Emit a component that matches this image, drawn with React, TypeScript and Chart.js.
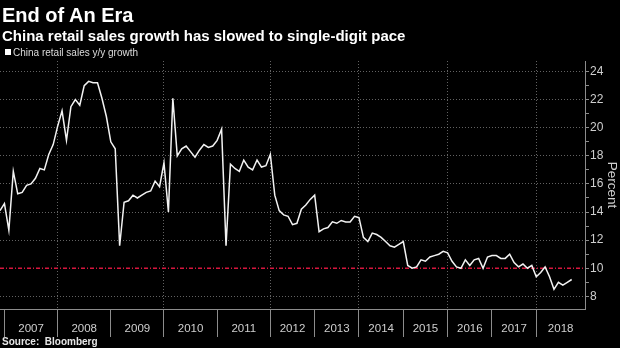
import React, { useEffect, useRef } from 'react';
import { Chart, registerables } from 'chart.js';

Chart.register(...registerables);

// China retail sales y/y growth (%), month-end points, Nov 2006 .. Sep 2018
const values: number[] = [
  14.1, 14.6, 12.7, 16.9, 15.3, 15.4, 15.9, 16.0, 16.4, 17.1, 17.0, 18.1, 18.8,
  20.1, 21.2, 19.1, 21.5, 22.0, 21.6, 23.0, 23.3, 23.2, 23.2, 22.1, 20.8, 19.0,
  18.5, 11.6, 14.7, 14.8, 15.2, 15.0, 15.2, 15.4, 15.5, 16.2, 15.8, 17.5, 14.0,
  22.1, 18.0, 18.5, 18.7, 18.3, 17.9, 18.4, 18.8, 18.6, 18.7, 19.1, 19.9, 11.6,
  17.4, 17.1, 16.9, 17.7, 17.2, 17.0, 17.7, 17.2, 17.3, 18.1, 15.2, 14.1, 13.8,
  13.7, 13.1, 13.2, 14.2, 14.5, 14.9, 15.2, 12.6, 12.8, 12.9, 13.3, 13.2, 13.4,
  13.3, 13.3, 13.7, 13.6, 12.2, 11.9, 12.5, 12.4, 12.2, 11.9, 11.6, 11.5, 11.7,
  11.9, 10.2, 10.0, 10.1, 10.6, 10.5, 10.8, 10.9, 11.0, 11.2, 11.1, 10.5, 10.1,
  10.0, 10.6, 10.2, 10.6, 10.7, 10.0, 10.8, 10.9, 10.9, 10.7, 10.7, 11.0, 10.4,
  10.1, 10.3, 10.0, 10.2, 9.4, 9.7, 10.1, 9.4, 8.5, 9.0, 8.8, 9.0, 9.2,
];

const years: string[] = ['2007', '2008', '2009', '2010', '2011', '2012', '2013', '2014', '2015', '2016', '2017', '2018'];
// point index at which each year begins
const yearStarts: number[] = [1, 13, 25, 37, 49, 61, 71, 81, 91, 101, 111, 121];
const xEnd = 132;

const yMajor: number[] = [8, 10, 12, 14, 16, 18, 20, 22, 24];
const yMinorTicks: number[] = [9, 11, 13, 15, 17, 19, 21, 23];
const yMin = 7.1;
const yMax = 24.75;
const threshold = 10;

const FONT = "'Liberation Sans', Arial, Helvetica, sans-serif";
const gridColor = 'rgba(150,150,150,0.65)';
const axisColor = '#8c8c8c';
const labelColor = '#cfcfcf';
const clear = 'rgba(0,0,0,0)';

export default function App() {
  const ref = useRef<HTMLCanvasElement | null>(null);

  useEffect(() => {
    if (!ref.current) return;
    const mids = years.map((_, k) => (yearStarts[k] + (k + 1 < yearStarts.length ? yearStarts[k + 1] : xEnd)) / 2);
    const labelMap = new Map<number, string>();
    mids.forEach((m, k) => labelMap.set(m, years[k]));
    const xTickVals = [...yearStarts, ...mids].sort((a, b) => a - b);
    const yTickVals = [...yMajor, ...yMinorTicks].sort((a, b) => a - b);

    const xGridColor = xTickVals.map((v) => {
      const k = yearStarts.indexOf(v);
      return k > 0 && k % 2 === 1 ? gridColor : clear;
    });
    const xTickColor = xTickVals.map((v) => (yearStarts.includes(v) ? axisColor : clear));
    const yGridColor = yTickVals.map((v) => (yMajor.includes(v) ? gridColor : clear));

    Chart.defaults.font.family = FONT;

    const chart = new Chart(ref.current, {
      type: 'line',
      data: {
        datasets: [
          {
            label: 'China retail sales y/y growth',
            data: values.map((v, i) => ({ x: i, y: v })),
            borderColor: '#f2f2f2',
            borderWidth: 1.5,
            pointRadius: 0,
            tension: 0,
            order: 0,
          },
          {
            label: 'threshold',
            data: [{ x: 0, y: threshold }, { x: xEnd, y: threshold }],
            borderColor: '#d6163e',
            borderWidth: 1.3,
            borderDash: [4, 2, 1, 2],
            pointRadius: 0,
            order: 1,
          },
        ],
      },
      options: {
        responsive: false,
        animation: false,
        devicePixelRatio: 1,
        events: [],
        layout: { padding: { top: 61, left: 0, right: 0, bottom: 0 }, autoPadding: false },
        plugins: { legend: { display: false }, tooltip: { enabled: false } },
        scales: {
          x: {
            type: 'linear',
            min: 0,
            max: xEnd,
            afterBuildTicks: (s: any) => {
              s.ticks = xTickVals.map((v) => ({ value: v }));
            },
            afterFit: (s: any) => {
              s.height = 39;
            },
            ticks: {
              autoSkip: false,
              maxRotation: 0,
              minRotation: 0,
              padding: -15.4,
              color: labelColor,
              font: { size: 11.5, family: FONT },
              callback: (v: any) => labelMap.get(Number(v)) ?? '',
            },
            grid: {
              display: true,
              drawOnChartArea: true,
              color: (ctx: any) => xGridColor[ctx.index] ?? clear,
              tickColor: (ctx: any) => xTickColor[ctx.index] ?? clear,
              tickLength: 28,
              lineWidth: 1,
              tickBorderDash: [],
            },
            border: { display: true, color: axisColor, width: 1, dash: [1, 2] },
          },
          y: {
            type: 'linear',
            position: 'right',
            min: yMin,
            max: yMax,
            afterBuildTicks: (s: any) => {
              s.ticks = yTickVals.map((v) => ({ value: v }));
            },
            afterFit: (s: any) => {
              s.width = 35;
            },
            ticks: {
              autoSkip: false,
              padding: 1,
              color: labelColor,
              font: { size: 12, family: FONT },
              callback: (v: any) => (yMajor.includes(Number(v)) ? String(v) : ''),
            },
            grid: {
              color: (ctx: any) => yGridColor[ctx.index] ?? clear,
              tickColor: axisColor,
              tickLength: 4,
              lineWidth: 1,
              tickBorderDash: [],
            },
            border: { display: true, color: axisColor, width: 1, dash: [1, 2] },
            title: {
              display: true,
              text: 'Percent',
              color: labelColor,
              font: { size: 13.5, family: FONT },
              padding: 0,
            },
          },
        },
      },
    } as any);
    return () => chart.destroy();
  }, []);

  const base: React.CSSProperties = { position: 'absolute', fontFamily: FONT, whiteSpace: 'nowrap', margin: 0 };

  return (
    <div style={{ position: 'fixed', left: 0, top: 0, width: 620, height: 348, background: '#000', overflow: 'hidden' }}>
      <canvas ref={ref} width={620} height={348} style={{ position: 'absolute', left: 0, top: 0, display: 'block' }} />
      <div style={{ ...base, left: 2, top: 5.4, fontSize: 20, lineHeight: '20px', fontWeight: 700, color: '#fff' }}>End of An Era</div>
      <div style={{ ...base, left: 2, top: 28, fontSize: 15, lineHeight: '15px', fontWeight: 700, color: '#fff' }}>
        China retail sales growth has slowed to single-digit pace
      </div>
      <div style={{ position: 'absolute', left: 5, top: 49, width: 6, height: 6, background: '#fff' }} />
      <div style={{ ...base, left: 13, top: 47.5, fontSize: 10, lineHeight: '10px', color: '#dcdcdc' }}>China retail sales y/y growth</div>
      <div style={{ ...base, left: 2, top: 336.5, fontSize: 10, lineHeight: '10px', fontWeight: 700, color: '#e6e6e6' }}>Source:&nbsp; Bloomberg</div>
    </div>
  );
}
